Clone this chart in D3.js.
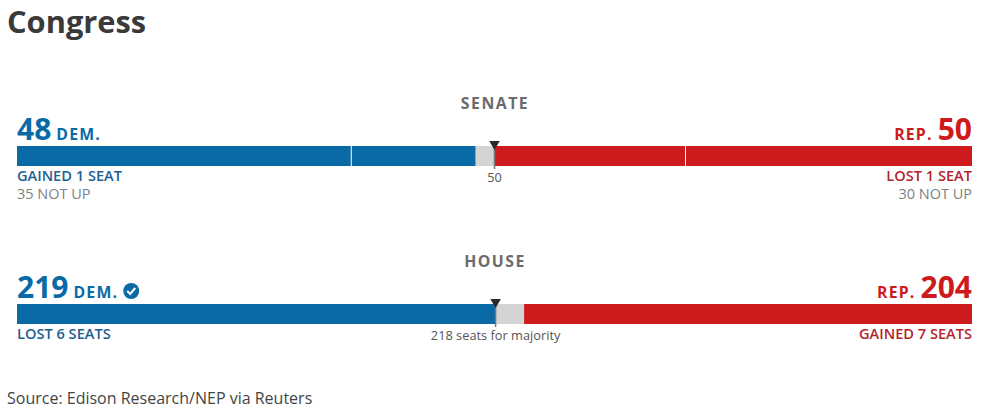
<!DOCTYPE html>
<html>
<head>
<meta charset="utf-8">
<script src="https://cdn.jsdelivr.net/npm/d3@7"></script>
<style>
html, body { margin: 0; padding: 0; background: #fff; overflow: hidden; }
text { font-family: "Open Sans", sans-serif; }
</style>
</head>
<body>
<div id="chart"></div>
<script>
var chambers = ["SENATE", "HOUSE"];
var totalSeats = [100, 435];
var demSeats = [48, 219];
var repSeats = [50, 204];
// the blue house bar stops at the majority mark in the picture, not at 219
var demBarEnd = [48, 218];
var demNotUp = [35, 0];
var repNotUp = [30, 0];
var majorityMark = [50, 218];
var majorityLabels = ["50", "218 seats for majority"];
var demChange = ["GAINED 1 SEAT", "LOST 6 SEATS"];
var repChange = ["LOST 1 SEAT", "GAINED 7 SEATS"];
var demNotUpLabels = ["35 NOT UP", ""];
var repNotUpLabels = ["30 NOT UP", ""];
var demWon = [false, true];

var blue = "#0a6aa6", red = "#cd1a1c", undecided = "#d4d4d4";
var left = 17, right = 972, barH = 20;
var rowTop = [146, 304];

var svg = d3.select("#chart").append("svg").attr("width", 991).attr("height", 415);

svg.append("text").attr("x", 7).attr("y", 33)
	.style("font-size", "30.8px").style("font-weight", 700).style("fill", "#3a3a3a")
	.text("Congress");

svg.append("text").attr("x", 7).attr("y", 404)
	.style("font-size", "16px").style("fill", "#444")
	.text("Source: Edison Research/NEP via Reuters");

chambers.forEach(function(name, i) {
	var x = d3.scaleLinear().domain([0, totalSeats[i]]).range([left, right]);
	var y = rowTop[i];
	var g = svg.append("g");

	g.append("text").attr("x", 495).attr("y", y - 37).attr("text-anchor", "middle")
		.style("font-size", "15.8px").style("font-weight", 700)
		.style("letter-spacing", "1.5px").style("fill", "#6b6b6b")
		.text(name);

	// grey first, the two parties sit on top of it
	g.append("rect").attr("x", x(0)).attr("y", y)
		.attr("width", x(totalSeats[i]) - x(0)).attr("height", barH)
		.style("fill", undecided);
	g.append("rect").attr("x", x(0)).attr("y", y)
		.attr("width", x(demBarEnd[i]) - x(0)).attr("height", barH)
		.style("fill", blue);
	g.append("rect").attr("x", x(totalSeats[i] - repSeats[i])).attr("y", y)
		.attr("width", x(repSeats[i]) - x(0)).attr("height", barH)
		.style("fill", red);

	if (demNotUp[i] > 0) {
		g.append("line").attr("x1", x(demNotUp[i])).attr("x2", x(demNotUp[i]))
			.attr("y1", y).attr("y2", y + barH).style("stroke", "#fff");
	}
	if (repNotUp[i] > 0) {
		var rx = x(totalSeats[i] - repNotUp[i]);
		g.append("line").attr("x1", rx).attr("x2", rx)
			.attr("y1", y).attr("y2", y + barH).style("stroke", "#fff");
	}

	var mx = x(majorityMark[i]);
	g.append("line").attr("x1", mx).attr("x2", mx)
		.attr("y1", y - 2).attr("y2", y + barH + 3)
		.style("stroke", "#777").style("stroke-width", 1.5);
	g.append("path")
		.attr("d", d3.symbol().type(d3.symbolTriangle).size(48))
		.attr("transform", "translate(" + mx + "," + (y - 2) + ") rotate(180)")
		.style("fill", "#2b2b2b");
	g.append("text").attr("x", mx).attr("y", y + barH + 16).attr("text-anchor", "middle")
		.style("font-size", "12.8px").style("fill", "#555")
		.text(majorityLabels[i]);

	// dem head
	var dem = g.append("text").attr("x", left).attr("y", y - 6)
		.style("fill", blue).style("font-weight", 700);
	dem.append("tspan").style("font-size", "30px").text(demSeats[i]);
	dem.append("tspan").attr("dx", 5).style("font-size", "15.8px")
		.style("letter-spacing", "1.2px").text("DEM.");

	if (demWon[i]) {
		var bx = dem.node().getBBox().x + dem.node().getBBox().width + 13;
		g.append("circle").attr("cx", bx).attr("cy", y - 13).attr("r", 8).style("fill", blue);
		g.append("path").attr("d", "M-4,0 L-1,3 L4,-3")
			.attr("transform", "translate(" + bx + "," + (y - 13) + ")")
			.style("fill", "none").style("stroke", "#fff").style("stroke-width", 2);
	}

	var rep = g.append("text").attr("x", right).attr("y", y - 6).attr("text-anchor", "end")
		.style("fill", red).style("font-weight", 700);
	rep.append("tspan").style("font-size", "15.8px")
		.style("letter-spacing", "1.2px").text("REP.");
	rep.append("tspan").attr("dx", 5).style("font-size", "30px").text(repSeats[i]);

	g.append("text").attr("x", left).attr("y", y + barH + 15)
		.style("font-size", "14.6px").style("font-weight", 600).style("fill", "#1d5f91")
		.text(demChange[i]);
	g.append("text").attr("x", right).attr("y", y + barH + 15).attr("text-anchor", "end")
		.style("font-size", "14.6px").style("font-weight", 600).style("fill", "#b3242c")
		.text(repChange[i]);

	g.append("text").attr("x", left).attr("y", y + barH + 33)
		.style("font-size", "14.5px").style("fill", "#808080")
		.text(demNotUpLabels[i]);
	g.append("text").attr("x", right).attr("y", y + barH + 33).attr("text-anchor", "end")
		.style("font-size", "14.5px").style("fill", "#808080")
		.text(repNotUpLabels[i]);
});
</script>
</body>
</html>
